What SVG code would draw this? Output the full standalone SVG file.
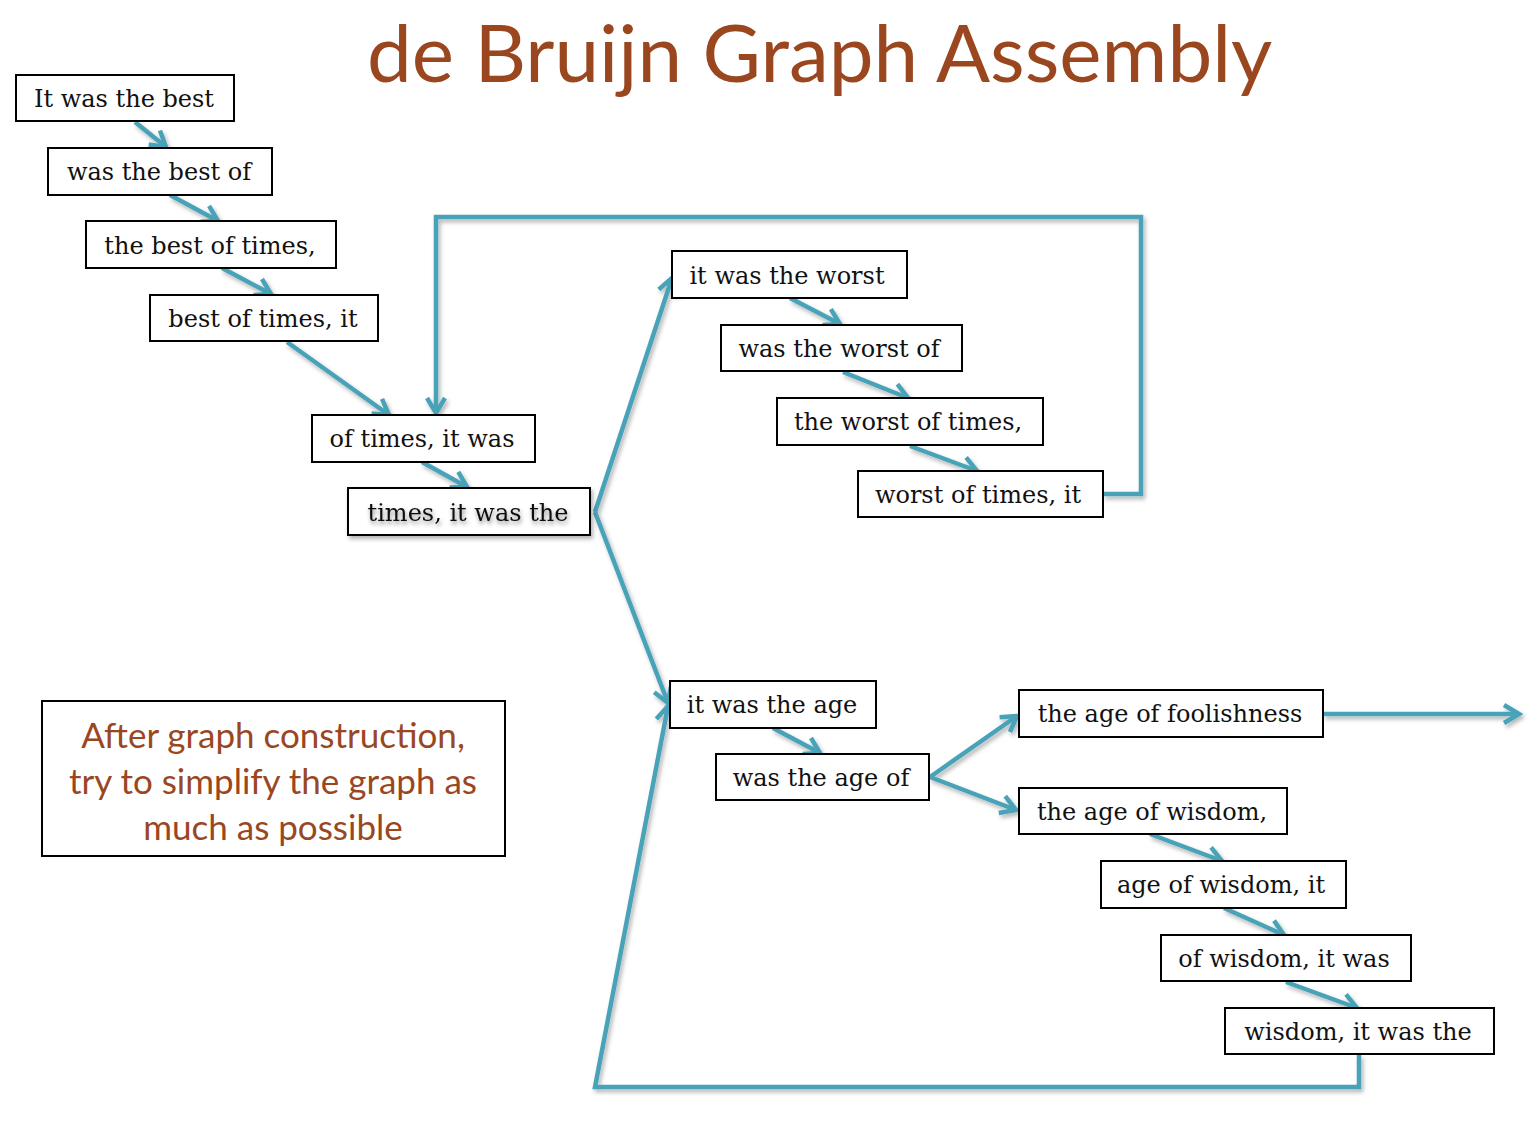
<svg xmlns="http://www.w3.org/2000/svg" width="1540" height="1128" viewBox="0 0 1540 1128">
<style>
.box{fill:#fff;stroke:#000;stroke-width:2}
.lbl{font-family:"DejaVu Serif","Liberation Serif",serif;font-size:24px;fill:#111;text-anchor:middle}
.edge{fill:none;stroke:#4aa3b8;stroke-width:4.5;stroke-linejoin:miter}
.title{font-family:Lato,"Open Sans",sans-serif;fill:#9a471f}
</style>
<defs>
<marker id="ah" viewBox="0 0 24 24" refX="20" refY="12" markerWidth="24" markerHeight="24" markerUnits="userSpaceOnUse" orient="auto">
<path d="M5,3 L20,12 L5,21" fill="none" stroke="#4aa3b8" stroke-width="4.5"/>
</marker>
<filter id="sh" x="-10%" y="-10%" width="130%" height="130%">
<feDropShadow dx="2" dy="3" stdDeviation="2" flood-color="#000" flood-opacity="0.3"/>
</filter>
<filter id="tsh" x="-10%" y="-20%" width="120%" height="160%">
<feDropShadow dx="1" dy="3" stdDeviation="2" flood-color="#000" flood-opacity="0.45"/>
</filter>
</defs>
<rect width="1540" height="1128" fill="#fff"/>
<text class="title" x="367" y="82" font-size="80">de Bruijn Graph Assembly</text>

<g id="connectors" filter="url(#sh)">
<line class="edge" x1="135" y1="122" x2="166" y2="147" marker-end="url(#ah)"/>
<line class="edge" x1="170" y1="195" x2="218" y2="221" marker-end="url(#ah)"/>
<line class="edge" x1="222" y1="268" x2="271" y2="294" marker-end="url(#ah)"/>
<line class="edge" x1="287" y1="342" x2="389" y2="415" marker-end="url(#ah)"/>
<line class="edge" x1="422" y1="462" x2="467" y2="487" marker-end="url(#ah)"/>
<polyline class="edge" points="1103,494 1141,494 1141,217 436,217 436,413" marker-end="url(#ah)"/>
<polyline class="edge" points="595,512 672,278" marker-end="url(#ah)"/>
<polyline class="edge" points="595,512 668,703" marker-end="url(#ah)"/>
<line class="edge" x1="790" y1="298" x2="840" y2="324" marker-end="url(#ah)"/>
<line class="edge" x1="843" y1="372" x2="908" y2="398" marker-end="url(#ah)"/>
<line class="edge" x1="910" y1="446" x2="977" y2="471" marker-end="url(#ah)"/>
<line class="edge" x1="773" y1="728" x2="820" y2="753" marker-end="url(#ah)"/>
<line class="edge" x1="930" y1="777" x2="1017" y2="716" marker-end="url(#ah)"/>
<line class="edge" x1="930" y1="777" x2="1016" y2="810" marker-end="url(#ah)"/>
<line class="edge" x1="1150" y1="834" x2="1222" y2="861" marker-end="url(#ah)"/>
<line class="edge" x1="1224" y1="908" x2="1284" y2="935" marker-end="url(#ah)"/>
<line class="edge" x1="1286" y1="982" x2="1357" y2="1008" marker-end="url(#ah)"/>
<polyline class="edge" points="1359,1055 1359,1087 595,1087 668,706" marker-end="url(#ah)"/>
<line class="edge" x1="1323" y1="714" x2="1519" y2="714" marker-end="url(#ah)"/>
</g>

<g id="n1"><rect class="box" x="16" y="75" width="218" height="46"/><text class="lbl" x="124" y="107">It was the best</text></g>
<g id="n2"><rect class="box" x="48" y="148" width="224" height="47"/><text class="lbl" x="159" y="180">was the best of</text></g>
<g id="n3"><rect class="box" x="86" y="221" width="250" height="47"/><text class="lbl" x="210" y="254">the best of times,</text></g>
<g id="n4"><rect class="box" x="150" y="295" width="228" height="46"/><text class="lbl" x="263" y="327">best of times, it</text></g>
<g id="n5"><rect class="box" x="312" y="415" width="223" height="47"/><text class="lbl" x="422" y="447">of times, it was</text></g>
<g id="n6"><rect class="box" x="348" y="488" width="242" height="47" filter="url(#sh)"/><text class="lbl" x="468" y="521" filter="url(#tsh)">times, it was the</text></g>
<g id="n7"><rect class="box" x="672" y="251" width="235" height="47"/><text class="lbl" x="787" y="284">it was the worst</text></g>
<g id="n8"><rect class="box" x="721" y="325" width="241" height="46"/><text class="lbl" x="839" y="357">was the worst of</text></g>
<g id="n9"><rect class="box" x="777" y="398" width="266" height="47"/><text class="lbl" x="908" y="430">the worst of times,</text></g>
<g id="n10"><rect class="box" x="858" y="471" width="245" height="46"/><text class="lbl" x="978" y="503">worst of times, it</text></g>
<g id="n11"><rect class="box" x="670" y="681" width="206" height="47"/><text class="lbl" x="772" y="713">it was the age</text></g>
<g id="n12"><rect class="box" x="716" y="754" width="213" height="46"/><text class="lbl" x="821" y="786">was the age of</text></g>
<g id="n13"><rect class="box" x="1019" y="690" width="304" height="47"/><text class="lbl" x="1170" y="722">the age of foolishness</text></g>
<g id="n14"><rect class="box" x="1019" y="788" width="268" height="46"/><text class="lbl" x="1152" y="820">the age of wisdom,</text></g>
<g id="n15"><rect class="box" x="1101" y="861" width="245" height="47"/><text class="lbl" x="1221" y="893">age of wisdom, it</text></g>
<g id="n16"><rect class="box" x="1161" y="935" width="250" height="46"/><text class="lbl" x="1284" y="967">of wisdom, it was</text></g>
<g id="n17"><rect class="box" x="1225" y="1008" width="269" height="46"/><text class="lbl" x="1358" y="1040">wisdom, it was the</text></g>

<g id="note">
<rect x="42" y="701" width="463" height="155" fill="#fff" stroke="#000" stroke-width="2"/>
<text class="title" font-size="35" text-anchor="middle"><tspan x="273" y="748">After graph construction,</tspan><tspan x="273" y="794">try to simplify the graph as</tspan><tspan x="273" y="840">much as possible</tspan></text>
</g>
</svg>
